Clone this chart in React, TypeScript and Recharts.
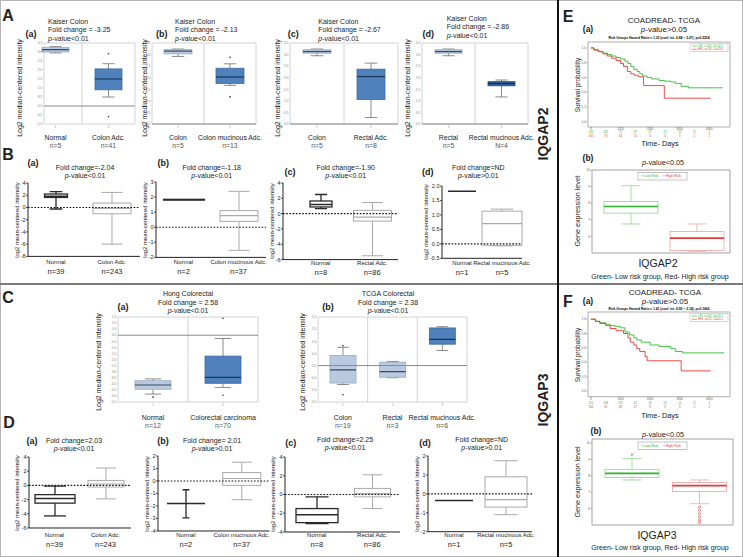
import React from 'react';
import { ComposedChart, Bar, XAxis, YAxis, CartesianGrid, ReferenceLine, LineChart, Line } from 'recharts';

const FONT = '"Liberation Sans", Arial, Helvetica, sans-serif';

// box stats are [min, q1, median, q3, max]

// A - IQGAP2, Oncomine Kaiser Colon
const aCats1 = ['Normal', 'Colon Adc.'];
const aN1 = ['n=5', 'n=41'];
const aBox1 = [[2.95, 3.0, 3.13, 3.26, 3.3], [0.5, 0.9, 1.5, 2.06, 2.35]];
const aOut1 = [[], [2.9, -0.6]];

const aCats2 = ['Colon', 'Colon mucinous Adc.'];
const aN2 = ['n=5', 'n=13'];
const aBox2 = [[2.92, 3.03, 3.15, 3.21, 3.24], [1.67, 1.75, 2.03, 2.41, 2.6]];
const aOut2 = [[], [2.88, 1.17]];

const aCats3 = ['Colon', 'Rectal Adc.'];
const aN3 = ['n=5', 'n=8'];
const aBox3 = [[2.95, 3.06, 3.13, 3.21, 3.24], [0.28, 1.06, 2.05, 2.37, 2.63]];

const aCats4 = ['Rectal', 'Rectal mucinous Adc.'];
const aN4 = ['n=5', 'N=4'];
const aBox4 = [[2.95, 3.06, 3.13, 3.21, 3.24], [1.17, 1.65, 1.75, 1.83, 1.9]];

const aTicks1 = [-1, -0.5, 0, 0.5, 1, 1.5, 2, 2.5, 3, 3.5];
const aTicks = [0, 0.5, 1, 1.5, 2, 2.5, 3, 3.5];

// B - IQGAP2, mean-centered
const bCats1 = ['Normal', 'Colon Adc.'];
const bN1 = ['n=39', 'n=243'];
const bBox1 = [[-0.25, 1.64, 1.85, 2.2, 2.6], [-6.0, -1.03, -0.15, 0.72, 2.46]];

const bCats2 = ['Normal', 'Colon mucinous Adc.'];
const bN2 = ['n=2', 'n=37'];
const bBox2 = [[1.81, 1.81, 1.83, 1.85, 1.85], [-1.53, 0.39, 0.77, 1.1, 2.38]];

const bCats3 = ['Normal', 'Rectal Adc.'];
const bN3 = ['n=8', 'n=86'];
const bBox3 = [[0.65, 0.87, 1.2, 1.65, 2.5], [-5.5, -0.97, -0.45, 0.43, 1.45]];

const bCats4 = ['Normal', 'Rectal mucinous Adc.'];
const bN4 = ['n=1', 'n=5'];
const bBox4 = [[1.82, 1.82, 1.82, 1.82, 1.82], [-0.07, -0.05, 0.7, 1.13, 1.2]];

const bTicks1 = [-8, -6, -4, -2, 0, 2, 4];
const bTicks2 = [-2, -1, 0, 1, 2, 3];
const bTicks3 = [-6, -4, -2, 0, 2, 4];
const bTicks4 = [-0.5, 0, 0.5, 1, 1.5, 2];

// C - IQGAP3, Oncomine
const cCats1 = ['Normal', 'Colorectal carcinoma'];
const cN1 = ['n=12', 'n=70'];
const cBox1 = [[-4.85, -4.45, -4.1, -3.75, -3.6], [-4.3, -3.96, -3.47, -1.72, -0.27]];
const cOut1 = [[-5.1], [1.4, -4.95]];

const cCats2 = ['Colon', 'Rectal', 'Rectal mucinous Adc.'];
const cN2 = ['n=19', 'n=3', 'n=6'];
const cBox2 = [[-0.78, -0.72, -0.18, 0.42, 0.75], [-0.5, -0.48, -0.25, 0.14, 0.17], [0.62, 0.88, 1.08, 1.55, 1.6]];
const cOut2 = [[0.82, -1.2], [], []];

const cTicks1 = [-5.5, -5, -4.5, -4, -3.5, -3, -2.5, -2, -1.5, -1, -0.5, 0, 0.5, 1, 1.5];
const cTicks2 = [-1.5, -1, -0.5, 0, 0.5, 1, 1.5, 2];

// D - IQGAP3, mean-centered
const dCats1 = ['Normal', 'Colon Adc.'];
const dN1 = ['n=39', 'n=243'];
const dBox1 = [[-4.3, -2.5, -1.85, -1.3, -0.1], [-1.9, -0.23, 0.2, 0.7, 2.45]];

const dCats2 = ['Normal', 'Colon mucinous Adc.'];
const dN2 = ['n=2', 'n=37'];
const dBox2 = [[-2.95, -1.8, -1.8, -1.8, -0.7], [-1.5, -0.35, 0.2, 0.67, 1.5]];

const dCats3 = ['Normal', 'Rectal Adc.'];
const dN3 = ['n=8', 'n=86'];
const dBox3 = [[-3.1, -3.0, -2.15, -1.5, -0.25], [-1.5, -0.25, 0.1, 0.65, 2.1]];

const dCats4 = ['Normal', 'Rectal mucinous Adc.'];
const dN4 = ['n=1', 'n=5'];
const dBox4 = [[-0.35, -0.35, -0.35, -0.35, -0.35], [-1.1, -0.7, -0.3, 0.9, 1.75]];

const dTicks1 = [-6, -4, -2, 0, 2, 4];
const dTicks2 = [-4, -3, -2, -1, 0, 1, 2];
const dTicks3 = [-4, -2, 0, 2, 4];
const dTicks4 = [-2, -1, 0, 1, 2];

// E / F - survival (SurvExpress)
const riskCats = ['Low Risk', 'High Risk'];
const eBox = [[6.75, 7.4, 7.8, 8.1, 9.05], [5.1, 5.15, 5.9, 6.3, 6.75]];
const fBox = [[7.75, 7.9, 8.15, 8.4, 9.05], [6.3, 7.05, 7.4, 7.6, 7.75]];
const fOut = [[9.3], [6.1, 5.9, 5.7, 5.5, 5.3, 5.15]];
const exprTicks = [6, 7, 8, 9, 10];

const kmXTicks = [0, 500, 1000, 1500, 2000, 2500, 3000, 3500, 4000];
const kmYTicks = [0, 0.2, 0.4, 0.6, 0.8, 1];

const eGreenT = [0, 100, 250, 400, 550, 700, 850, 1000, 1150, 1250, 1350, 1450, 1560, 1650, 1750, 1900, 2050, 2300, 2500, 2700, 2850, 3050, 3300, 4450];
const eGreenS = [1.0, 0.98, 0.95, 0.93, 0.91, 0.89, 0.87, 0.85, 0.82, 0.79, 0.75, 0.71, 0.68, 0.65, 0.62, 0.6, 0.58, 0.56, 0.55, 0.54, 0.52, 0.48, 0.46, 0.46];
const eRedT = [0, 100, 250, 400, 550, 700, 850, 1000, 1100, 1230, 1350, 1460, 1600, 1780, 2480, 4050];
const eRedS = [1.0, 0.97, 0.95, 0.92, 0.89, 0.86, 0.83, 0.79, 0.75, 0.68, 0.65, 0.63, 0.61, 0.49, 0.32, 0.32];
const eRiskG = [165, 131, 75, 47, 27, 22, 12, 11, 5];
const eRiskR = [165, 73, 34, 11, 3, 3, 3, 2, 1];

const fGreenT = [0, 150, 300, 500, 650, 800, 1000, 1150, 1300, 1450, 1550, 1700, 2000, 2300, 2700, 2850, 3100, 4500];
const fGreenS = [1.0, 0.97, 0.95, 0.93, 0.91, 0.9, 0.88, 0.82, 0.78, 0.74, 0.71, 0.68, 0.64, 0.62, 0.59, 0.55, 0.53, 0.53];
const fRedT = [0, 150, 300, 500, 650, 850, 1100, 1250, 1330, 1450, 1550, 1650, 1830, 1900, 3050, 4050];
const fRedS = [1.0, 0.97, 0.94, 0.91, 0.87, 0.84, 0.8, 0.74, 0.68, 0.64, 0.59, 0.55, 0.48, 0.42, 0.28, 0.28];
const fRiskG = [225, 208, 131, 41, 26, 20, 12, 11, 4];
const fRiskR = [150, 90, 49, 17, 8, 3, 3, 2, 2];

const LIGHT = '#b9cae0';
const DARK = '#4f81bd';

function BoxShape(props: any) {
  const { x, y, width, height, payload, kind, fills, strokes, meds, boxW, capW } = props;
  if (payload == null || x == null || y == null) return null;
  const i = payload.i;
  const t = Math.min(y, y + height);
  const b = Math.max(y, y + height);
  const [lo, hi] = payload.range;
  const py = (v: number) => (hi === lo ? t : b - ((v - lo) / (hi - lo)) * (b - t));
  const [mn, q1, md, q3, mx] = payload.s;
  const cx = x + width / 2;
  const bw = boxW?.[i] ?? width;
  const cw = capW?.[i] ?? bw * (kind === 'onco' ? 0.45 : kind === 'surv' ? 0.35 : 0.55);
  const stroke = strokes?.[i] ?? '#333';
  const med = meds?.[i] ?? stroke;
  const fill = fills?.[i] ?? 'none';
  const sw = kind === 'prism' ? (i === 0 ? 1.3 : 1) : 0.8;
  const whisk = kind === 'onco' ? '#6d6d6d' : stroke;
  const yq1 = py(q1);
  const yq3 = py(q3);
  return (
    <g>
      <line x1={cx} x2={cx} y1={py(mx)} y2={yq3} stroke={whisk} strokeWidth={sw} />
      <line x1={cx} x2={cx} y1={yq1} y2={py(mn)} stroke={whisk} strokeWidth={sw} />
      {mx > q3 && <line x1={cx - cw / 2} x2={cx + cw / 2} y1={py(mx)} y2={py(mx)} stroke={whisk} strokeWidth={sw} />}
      {mn < q1 && <line x1={cx - cw / 2} x2={cx + cw / 2} y1={py(mn)} y2={py(mn)} stroke={whisk} strokeWidth={sw} />}
      <rect x={cx - bw / 2} y={yq3} width={bw} height={Math.max(0, yq1 - yq3)} fill={fill} stroke={stroke} strokeWidth={sw} />
      <line x1={cx - bw / 2} x2={cx + bw / 2} y1={py(md)} y2={py(md)} stroke={med} strokeWidth={kind === 'surv' ? 1.7 : kind === 'onco' ? 1.2 : sw + 0.2} />
      {payload.out.map((v: number, k: number) =>
        kind === 'surv' ? (
          <circle key={k} cx={cx} cy={py(v)} r={1.1} fill="none" stroke={med} strokeWidth={0.6} />
        ) : (
          <circle key={k} cx={cx} cy={py(v)} r={0.8} fill="#333" />
        )
      )}
    </g>
  );
}

function BoxChart(p: any) {
  const kind = p.kind;
  const yW = kind === 'prism' ? 12 : 10;
  const mt = 3;
  const mr = 3;
  const bottom = p.top + p.h;
  const hasLabels = p.nY != null;
  const nameDy = hasLabels ? p.nameY - bottom : 0;
  const nDy = hasLabels ? p.nY - bottom : 0;
  const xH = hasLabels ? nDy + 7 : 3;
  const padL = p.padL ?? 0;
  const padR = p.padR ?? 0;
  const n = p.cats.length;
  const data = p.cats.map((c: string, i: number) => {
    const out = p.out?.[i] ?? [];
    const s = p.stats[i];
    return { name: c, i, s, out, range: [Math.min(s[0], ...out), Math.max(s[4], ...out)] };
  });

  const tick = (tp: any) => {
    const { x, y, payload } = tp;
    const i = p.cats.indexOf(payload.value);
    if (!hasLabels) return <g />;
    return (
      <g fontFamily={FONT}>
        {kind === 'onco' && (
          <text x={x} y={y + 2.8} fontSize={3.5} fill="#999" textAnchor="middle" dominantBaseline="central">{i + 1}</text>
        )}
        <text x={x} y={y + nameDy} fontSize={p.nameSize} fill="#222" textAnchor="middle" dominantBaseline="central">{payload.value}</text>
        <text x={x} y={y + nDy} fontSize={p.nSize} fill={p.nColor ?? '#222'} textAnchor="middle" dominantBaseline="central">{p.ns[i]}</text>
      </g>
    );
  };

  const yProps =
    kind === 'prism'
      ? { axisLine: { stroke: '#222', strokeWidth: 1 }, tickLine: { stroke: '#222', strokeWidth: 0.8 }, tickSize: 2, tickMargin: 0.5, tick: { fontSize: 5.5, fill: '#222', fontFamily: FONT } }
      : kind === 'onco'
      ? { axisLine: false, tickLine: false, tickSize: 0, tickMargin: 1.5, tick: { fontSize: 3.5, fill: '#888', fontFamily: FONT } }
      : { axisLine: false, tickLine: { stroke: '#777', strokeWidth: 0.5 }, tickSize: 1.5, tickMargin: 0.5, tick: { fontSize: 3.2, fill: '#666', fontFamily: FONT } };

  return (
    <div style={{ position: 'absolute', left: p.left - yW, top: p.top - mt }}>
      <ComposedChart width={yW + p.w + mr} height={mt + p.h + xH} data={data} margin={{ top: mt, right: mr, left: 0, bottom: 0 }}>
        {kind !== 'prism' && (
          <CartesianGrid
            stroke={kind === 'onco' ? '#c6c6c6' : '#8c8c8c'}
            strokeWidth={0.8}
            horizontalCoordinatesGenerator={({ offset }: any) => (offset ? [offset.top, offset.top + offset.height] : [])}
            verticalCoordinatesGenerator={({ offset }: any) => {
              if (!offset) return [];
              const xs = [offset.left, offset.left + offset.width];
              if (kind === 'onco') {
                const bw = (offset.width - padL - padR) / n;
                for (let i = 1; i < n; i++) xs.push(offset.left + padL + bw * i);
              }
              return xs;
            }}
          />
        )}
        <XAxis
          dataKey="name"
          type="category"
          padding={{ left: padL, right: padR }}
          axisLine={kind === 'prism' ? { stroke: '#222', strokeWidth: 1 } : false}
          tickLine={false}
          tickSize={0}
          tickMargin={0}
          height={xH}
          interval={0}
          tick={tick}
        />
        <YAxis type="number" domain={p.domain} ticks={p.ticks} interval={0} allowDataOverflow width={yW} tickFormatter={p.fmt} {...(yProps as any)} />
        {kind === 'onco' && <ReferenceLine y={0} stroke="#8a8a8a" strokeWidth={1} />}
        {kind === 'prism' && <ReferenceLine y={0} stroke="#111" strokeWidth={1.1} strokeDasharray="1.6 1.6" />}
        <Bar
          dataKey="range"
          barSize={p.barSize}
          isAnimationActive={false}
          shape={(sp: any) => (
            <BoxShape {...sp} kind={kind} fills={p.fills} strokes={p.strokes} meds={p.meds} boxW={p.boxW} capW={p.capW} />
          )}
        />
      </ComposedChart>
    </div>
  );
}

function KMChart(p: any) {
  const yW = 8;
  const green = p.gT.map((t: number, i: number) => ({ t, s: p.gS[i] }));
  const red = p.rT.map((t: number, i: number) => ({ t, s: p.rS[i] }));
  const tick = (tp: any) => {
    const { x, y, payload } = tp;
    const v = payload.value;
    const i = kmXTicks.indexOf(v);
    return (
      <g fontFamily={FONT}>
        {v % 1000 === 0 && (
          <>
            <line x1={x} x2={x} y1={y} y2={y + 1.2} stroke="#666" strokeWidth={0.4} />
            <text x={x} y={y + p.labDy} fontSize={3} fill="#666" textAnchor="middle" dominantBaseline="central">{v}</text>
          </>
        )}
        <text x={x} y={y + p.gDy} fontSize={2.8} fill="#2db52d" textAnchor="middle" dominantBaseline="central">{p.riskG[i]}</text>
        <text x={x} y={y + p.rDy} fontSize={2.8} fill="#e03030" textAnchor="middle" dominantBaseline="central">{p.riskR[i]}</text>
      </g>
    );
  };
  return (
    <div style={{ position: 'absolute', left: p.left - yW, top: p.top - 1 }}>
      <LineChart width={yW + p.w + 1} height={p.h + 1 + 14} margin={{ top: 1, right: 1, left: 0, bottom: 0 }}>
        <CartesianGrid
          stroke="#8c8c8c"
          strokeWidth={0.7}
          horizontalCoordinatesGenerator={({ offset }: any) => (offset ? [offset.top, offset.top + offset.height] : [])}
          verticalCoordinatesGenerator={({ offset }: any) => (offset ? [offset.left, offset.left + offset.width] : [])}
        />
        <XAxis type="number" dataKey="t" domain={[-100, 4700]} ticks={kmXTicks} interval={0} allowDataOverflow tickLine={false} axisLine={false} tickSize={0} tickMargin={0} height={14} tick={tick} />
        <YAxis
          type="number"
          domain={p.yDomain}
          ticks={kmYTicks}
          interval={0}
          allowDataOverflow
          width={yW}
          axisLine={false}
          tickLine={{ stroke: '#777', strokeWidth: 0.4 }}
          tickSize={1.5}
          tickMargin={0.5}
          tick={{ fontSize: 3.2, fill: '#666', fontFamily: FONT }}
          tickFormatter={(v: number) => v.toFixed(1)}
        />
        <Line data={green} dataKey="s" type="stepAfter" stroke="#2ebd2e" strokeWidth={0.9} dot={false} isAnimationActive={false} />
        <Line data={red} dataKey="s" type="stepAfter" stroke="#e53935" strokeWidth={0.9} dot={false} isAnimationActive={false} />
      </LineChart>
    </div>
  );
}

function T({ x, y, s = 7, b = false, c = '#222', a = 'c', children }: any) {
  const tr = a === 'c' ? 'translate(-50%,-50%)' : a === 'l' ? 'translate(0,-50%)' : 'translate(-100%,-50%)';
  return (
    <div style={{ position: 'absolute', left: x, top: y, transform: tr, fontSize: s, fontWeight: b ? 700 : 400, color: c, whiteSpace: 'nowrap', lineHeight: 1 }}>
      {children}
    </div>
  );
}

function V({ x, y, s = 7, b = false, children }: any) {
  return (
    <div style={{ position: 'absolute', left: x, top: y, transform: 'translate(-50%,-50%) rotate(-90deg)', fontSize: s, fontWeight: b ? 700 : 400, whiteSpace: 'nowrap', lineHeight: 1 }}>
      {children}
    </div>
  );
}

const P = ({ t }: any) => (
  <>
    <i>p</i>
    {t}
  </>
);

const f1 = (v: number) => v.toFixed(1);
const f0 = (v: number) => String(v);

export default function App() {
  const onco = { kind: 'onco', nameSize: 6.8, nSize: 6.8, nColor: '#555', fmt: f1 };
  const prism = { kind: 'prism', nameSize: 6, nSize: 7.5, strokes: ['#2a2a2a', '#a9a9a9'] };
  const surv = { kind: 'surv', strokes: ['#8ad88a', '#f2a0a0'], meds: ['#2eb32e', '#e23a3a'], fmt: f0 };
  return (
    <div style={{ position: 'absolute', left: 0, top: 0, width: 743, height: 557, background: '#fff', fontFamily: FONT, color: '#222', overflow: 'hidden' }}>
      <style>{`.recharts-surface{overflow:visible}`}</style>
      <div style={{ position: 'absolute', left: 0, top: 0, width: 743, height: 557, boxSizing: 'border-box', border: '1px solid #b5b5b5' }} />
      <div style={{ position: 'absolute', left: 0, top: 283, width: 743, height: 2, background: '#7a7a7a' }} />
      <div style={{ position: 'absolute', left: 557, top: 0, width: 1.5, height: 557, background: '#111' }} />

      {/* A */}
      <BoxChart {...onco} left={44} top={43} w={91} h={81} cats={aCats1} ns={aN1} stats={aBox1} out={aOut1} domain={[-1, 3.5]} ticks={aTicks1} padL={-15} barSize={27} fills={[LIGHT, DARK]} strokes={['#98abc4', '#3f6b9c']} meds={['#3a4a5e', '#1c3554']} nameY={137.3} nY={145} />
      <BoxChart {...onco} left={152} top={43} w={104} h={81} cats={aCats2} ns={aN2} stats={aBox2} out={aOut2} domain={[0, 3.5]} ticks={aTicks} barSize={28} fills={[LIGHT, DARK]} strokes={['#98abc4', '#3f6b9c']} meds={['#3a4a5e', '#1c3554']} nameY={137.3} nY={145} />
      <BoxChart {...onco} left={290} top={43} w={108} h={81} cats={aCats3} ns={aN3} stats={aBox3} domain={[0, 3.5]} ticks={aTicks} barSize={28} fills={[LIGHT, DARK]} strokes={['#98abc4', '#3f6b9c']} meds={['#3a4a5e', '#1c3554']} nameY={137.3} nY={145} />
      <BoxChart {...onco} left={422} top={43} w={106} h={81} cats={aCats4} ns={aN4} stats={aBox4} domain={[0, 3.5]} ticks={aTicks} barSize={27} fills={[LIGHT, '#2f5f98']} strokes={['#98abc4', '#27507f']} meds={['#3a4a5e', '#14304f']} nameY={137.3} nY={145} />

      {/* B */}
      <BoxChart {...prism} left={28} top={183.3} w={112} h={73.4} cats={bCats1} ns={bN1} stats={bBox1} domain={[-8, 4]} ticks={bTicks1} fmt={f0} barSize={30} boxW={[23, 38]} nameY={262} nY={272} />
      <BoxChart {...prism} left={156} top={182.3} w={110} h={75.4} cats={bCats2} ns={bN2} stats={bBox2} domain={[-2, 3]} ticks={bTicks2} fmt={f0} barSize={30} boxW={[41, 38]} nameY={262} nY={272} />
      <BoxChart {...prism} left={283} top={182.7} w={115} h={76.6} cats={bCats3} ns={bN3} stats={bBox3} domain={[-6, 4]} ticks={bTicks3} fmt={f0} padL={12} barSize={30} boxW={[22, 38]} nameY={263} nY={272} />
      <BoxChart {...prism} left={442} top={186} w={80} h={72.3} cats={bCats4} ns={bN4} stats={bBox4} domain={[-0.5, 2]} ticks={bTicks4} fmt={f1} barSize={30} boxW={[28, 40]} nameY={263} nY={272} />

      {/* C */}
      <BoxChart {...onco} left={118} top={317} w={140} h={85} cats={cCats1} ns={cN1} stats={cBox1} out={cOut1} domain={[-5.5, 1.5]} ticks={cTicks1} barSize={36} fills={[LIGHT, DARK]} strokes={['#98abc4', '#3f6b9c']} meds={['#3a4a5e', '#1c3554']} nameSize={7} nSize={7} nameY={417} nY={425} />
      <BoxChart {...onco} left={318} top={317} w={149} h={85} cats={cCats2} ns={cN2} stats={cBox2} out={cOut2} domain={[-1.5, 2]} ticks={cTicks2} barSize={26} fills={[LIGHT, LIGHT, DARK]} strokes={['#98abc4', '#98abc4', '#3f6b9c']} meds={['#3a4a5e', '#3a4a5e', '#1c3554']} nameSize={7} nSize={7} nameY={417} nY={425} />

      {/* D */}
      <BoxChart {...prism} left={28.5} top={456.7} w={102} h={71} cats={dCats1} ns={dN1} stats={dBox1} domain={[-6, 4]} ticks={dTicks1} fmt={f0} barSize={30} boxW={[40, 36]} nameY={535} nY={544.3} />
      <BoxChart {...prism} left={158} top={456} w={111.5} h={75} cats={dCats2} ns={dN2} stats={dBox2} domain={[-4, 2]} ticks={dTicks2} fmt={f0} barSize={30} boxW={[38, 38]} capW={[7, 20]} nameY={535} nY={544.3} />
      <BoxChart {...prism} left={285} top={456.7} w={115} h={75} cats={dCats3} ns={dN3} stats={dBox3} domain={[-4, 4]} ticks={dTicks3} fmt={f0} padL={4} barSize={30} boxW={[42, 36]} nameY={535} nY={544.3} />
      <BoxChart {...prism} left={428} top={456} w={104} h={75.7} cats={dCats4} ns={dN4} stats={dBox4} domain={[-2, 2]} ticks={dTicks4} fmt={f0} barSize={30} boxW={[38, 42]} nameY={535} nY={544.3} />

      {/* E / F */}
      <KMChart left={588} top={42} w={142} h={85} gT={eGreenT} gS={eGreenS} rT={eRedT} rS={eRedS} riskG={eRiskG} riskR={eRiskR} yDomain={[-0.07, 1.08]} labDy={2} gDy={5.4} rDy={9} />
      <KMChart left={588} top={312} w={142} h={84.7} gT={fGreenT} gS={fGreenS} rT={fRedT} rS={fRedS} riskG={fRiskG} riskR={fRiskR} yDomain={[-0.08, 1.1]} labDy={2.2} gDy={6.4} rDy={10.3} />
      <BoxChart {...surv} left={592} top={170} w={138} h={83} cats={riskCats} stats={eBox} domain={[5, 10]} ticks={exprTicks} padL={6} barSize={54} />
      <BoxChart {...surv} left={592} top={439} w={141} h={86} cats={riskCats} stats={fBox} out={fOut} domain={[5, 10.25]} ticks={exprTicks} padL={6} barSize={54} />

      {/* tiny annotations */}
      <svg width={743} height={557} style={{ position: 'absolute', left: 0, top: 0, pointerEvents: 'none' }} fontFamily={FONT}>
        <text x={659} y={38} fontSize={3.3} fontWeight={700} textAnchor="middle" dominantBaseline="central">Risk Groups Hazard Ratio = 1.32 (conf. int. 0.84 ~ 2.07), p=0.2254</text>
        <text x={659} y={309} fontSize={3.3} fontWeight={700} textAnchor="middle" dominantBaseline="central">Risk Groups Hazard Ratio = 1.41 (conf. int. 0.93 ~ 2.14), p=0.1066</text>
        <rect x={690} y={43.5} width={38} height={8} fill="#fff" stroke="#999" strokeWidth={0.4} />
        <line x1={692} x2={697} y1={46} y2={46} stroke="#2ebd2e" strokeWidth={0.6} />
        <text x={698} y={46} fontSize={2.6} fill="#2ebd2e" dominantBaseline="central">LR1, n=165, Ck=44.7</text>
        <line x1={692} x2={697} y1={49.3} y2={49.3} stroke="#e53935" strokeWidth={0.6} />
        <text x={698} y={49.3} fontSize={2.6} fill="#e53935" dominantBaseline="central">HR1, n=165, Ck=28.3</text>
        <rect x={690} y={313.5} width={38} height={8} fill="#fff" stroke="#999" strokeWidth={0.4} />
        <line x1={692} x2={697} y1={316} y2={316} stroke="#2ebd2e" strokeWidth={0.6} />
        <text x={698} y={316} fontSize={2.6} fill="#2ebd2e" dominantBaseline="central">LR1, n=234, Ck=43.5</text>
        <line x1={692} x2={697} y1={319.3} y2={319.3} stroke="#e53935" strokeWidth={0.6} />
        <text x={698} y={319.3} fontSize={2.6} fill="#e53935" dominantBaseline="central">HR1, n=141, Ck=45.1</text>
        <rect x={638} y={172.5} width={49} height={7.5} fill="#fff" stroke="#888" strokeWidth={0.5} />
        <text x={641} y={176.3} fontSize={3.5} fill="#2eb32e" dominantBaseline="central">× Low Risk</text>
        <text x={663} y={176.3} fontSize={3.5} fill="#e23a3a" dominantBaseline="central">× High Risk</text>
        <rect x={638} y={442} width={49} height={7.5} fill="#fff" stroke="#888" strokeWidth={0.5} />
        <text x={641} y={445.8} fontSize={3.5} fill="#2eb32e" dominantBaseline="central">× Low Risk</text>
        <text x={663} y={445.8} fontSize={3.5} fill="#e23a3a" dominantBaseline="central">× High Risk</text>
      </svg>

      {/* panel letters */}
      <T x={8} y={16} s={16} b>A</T>
      <T x={8} y={155} s={16} b>B</T>
      <T x={8} y={298} s={16} b>C</T>
      <T x={9} y={423} s={16} b>D</T>
      <T x={568} y={17} s={16} b>E</T>
      <T x={568} y={302} s={16} b>F</T>

      {/* sub labels */}
      <T x={31} y={33.5} s={9} b>(a)</T>
      <T x={161.7} y={33.5} s={9} b>(b)</T>
      <T x={293.3} y={34.3} s={9} b>(c)</T>
      <T x={428.3} y={34.3} s={9} b>(d)</T>
      <T x={33} y={163.3} s={9} b>(a)</T>
      <T x={163.3} y={163.3} s={9} b>(b)</T>
      <T x={290} y={171.7} s={9} b>(c)</T>
      <T x={427.7} y={171.7} s={9} b>(d)</T>
      <T x={123} y={307} s={9} b>(a)</T>
      <T x={328} y={307} s={9} b>(b)</T>
      <T x={32} y={441} s={9} b>(a)</T>
      <T x={163} y={441} s={9} b>(b)</T>
      <T x={290.7} y={443.3} s={9} b>(c)</T>
      <T x={425} y={443.3} s={9} b>(d)</T>
      <T x={588} y={29} s={8.5} b>(a)</T>
      <T x={588} y={158} s={8.5} b>(b)</T>
      <T x={588} y={301} s={8.5} b>(a)</T>
      <T x={596} y={431} s={8.5} b>(b)</T>

      {/* A titles */}
      <T x={48} y={20.5} a="l">Kaiser Colon</T>
      <T x={48} y={29} a="l">Fold change = -3.25</T>
      <T x={48} y={37.5} a="l"><P t="-value<0.01" /></T>
      <T x={175} y={20.5} a="l">Kaiser Colon</T>
      <T x={175} y={29} a="l">Fold change = -2.13</T>
      <T x={175} y={37.5} a="l"><P t="-value<0.01" /></T>
      <T x={318.3} y={20.5} a="l">Kaiser Colon</T>
      <T x={318.3} y={29} a="l">Fold change = -2.67</T>
      <T x={318.3} y={37.5} a="l"><P t="-value<0.01" /></T>
      <T x={446.7} y={17.5} a="l">Kaiser Colon</T>
      <T x={446.7} y={26} a="l">Fold change = -2.86</T>
      <T x={446.7} y={34.5} a="l"><P t="-value<0.01" /></T>

      {/* B titles */}
      <T x={85} y={167.3}>Fold change=-2.04</T>
      <T x={85} y={175.3}><P t="-value<0.01" /></T>
      <T x={211.7} y={167.3}>Fold change=-1.18</T>
      <T x={211.7} y={175.3}><P t="-value<0.01" /></T>
      <T x={345.7} y={167}>Fold change=-1.90</T>
      <T x={345.7} y={175}><P t="-value<0.01" /></T>
      <T x={478.3} y={167}>Fold change=ND</T>
      <T x={478.3} y={175}><P t="-value>0.01" /></T>

      {/* C titles */}
      <T x={188} y={293}>Hong Colorectal</T>
      <T x={188} y={301.5}>Fold change = 2.58</T>
      <T x={188} y={310}><P t="-value<0.01" /></T>
      <T x={388} y={293}>TCGA Colorectal</T>
      <T x={388} y={301.5}>Fold change = 2.38</T>
      <T x={388} y={310}><P t="-value<0.01" /></T>

      {/* D titles */}
      <T x={74} y={439.5}>Fold change=2.03</T>
      <T x={74} y={447.5}><P t="-value<0.01" /></T>
      <T x={212} y={439.5}>Fold change= 2.01</T>
      <T x={212} y={447.5}><P t="-value>0.01" /></T>
      <T x={345} y={439}>Fold change=2.25</T>
      <T x={345} y={447}><P t="-value<0.01" /></T>
      <T x={481.7} y={439}>Fold change=ND</T>
      <T x={481.7} y={447}><P t="-value>0.01" /></T>

      {/* y axis labels */}
      <V x={19} y={88}>Log2 median-centered intensity</V>
      <V x={144} y={88}>Log2 median-centered intensity</V>
      <V x={276.7} y={88}>Log2 median-centered intensity</V>
      <V x={406.7} y={88}>Log2 median-centered intensity</V>
      <V x={98} y={362}>Log2 median-centered intensity</V>
      <V x={302} y={362}>Log2 median-centered intensity</V>
      <V x={17.5} y={220} s={5.9}>log2 mean-centered intensity</V>
      <V x={145.5} y={220} s={5.9}>log2 mean-centered intensity</V>
      <V x={273} y={221} s={5.9}>log2 mean-centered intensity</V>
      <V x={426.5} y={222} s={5.9}>log2 mean-centered intensity</V>
      <V x={17.5} y={493} s={5.9}>log2 mean-centered intensity</V>
      <V x={147.5} y={494} s={5.9}>log2 mean-centered intensity</V>
      <V x={274} y={494} s={5.9}>log2 mean-centered intensity</V>
      <V x={417.5} y={494} s={5.9}>log2 mean-centered intensity</V>

      {/* E / F texts */}
      <T x={664} y={20.5} s={8}>COADREAD- TCGA</T>
      <T x={664} y={30} s={8}><P t="-value>0.05" /></T>
      <V x={578} y={85} s={6.5}>Survival probability</V>
      <T x={660} y={144} s={7.4}>Time- Days</T>
      <T x={663} y={163} s={7.2}><P t="-value<0.05" /></T>
      <V x={578} y={211} s={7.2}>Gene expression level</V>
      <T x={658} y={263} s={10.5}>IQGAP2</T>
      <T x={660} y={276} s={7}>Green- Low risk group, Red- High risk group</T>

      <T x={665} y={292.5} s={8}>COADREAD- TCGA</T>
      <T x={665} y={302} s={8}><P t="-value>0.05" /></T>
      <V x={578} y={355} s={6.5}>Survival probability</V>
      <T x={660} y={416} s={7.4}>Time- Days</T>
      <T x={663} y={435} s={7.2}><P t="-value<0.05" /></T>
      <V x={578} y={482} s={7.2}>Gene expression level</V>
      <T x={657} y={535} s={10.5}>IQGAP3</T>
      <T x={660} y={547} s={7}>Green- Low risk group, Red- High risk group</T>

      <V x={543} y={133.5} s={14} b>IQGAP2</V>
      <V x={543} y={400} s={14} b>IQGAP3</V>
    </div>
  );
}
